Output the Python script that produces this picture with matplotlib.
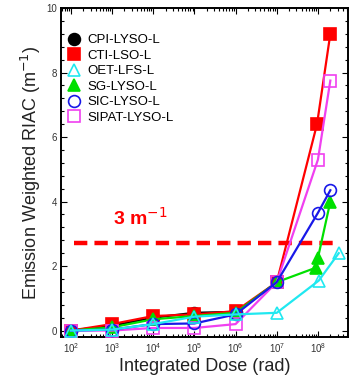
import numpy as np
import matplotlib
matplotlib.use('Agg')
import matplotlib.pyplot as plt
from matplotlib.lines import Line2D
from matplotlib.ticker import LogLocator, MultipleLocator, NullFormatter

plt.rcParams['font.family'] = ['Liberation Sans', 'DejaVu Sans']

# 照射線量 (rad) と放射誘起吸収係数 (m^-1)
dose_cpi = [1e2, 1e3, 1e4, 1e5, 1e6]
riac_cpi = [0.0, 0.15, 0.40, 0.55, 0.58]
dose_cti = [1e2, 1e3, 1e4, 1e5, 1e6, 1e7, 0.95e8, 2e8]
riac_cti = [0.0, 0.20, 0.45, 0.50, 0.60, 1.5, 6.4, 9.2]
dose_oet = [1e2, 1e3, 1e4, 1e5, 1e6, 1e7, 1.05e8, 3.2e8]
riac_oet = [0.0, 0.03, 0.20, 0.43, 0.50, 0.55, 1.55, 2.4]
dose_sg = [1e2, 1e3, 1e4, 1e5, 1e6, 1e7, 0.9e8, 1.0e8, 2e8]
riac_sg = [0.0, 0.10, 0.35, 0.45, 0.55, 1.5, 1.95, 2.25, 4.0]
dose_sic = [1e2, 1e3, 1e4, 1e5, 1e6, 1e7, 1.0e8, 2e8]
riac_sic = [0.0, 0.03, 0.20, 0.22, 0.50, 1.5, 3.65, 4.35]
dose_sipat = [1e2, 1e3, 1e4, 1e5, 1e6, 1e7, 1.0e8, 2e8]
riac_sipat = [0.0, 0.0, 0.08, 0.08, 0.20, 1.5, 5.3, 7.75]

limit_dose = [1.2e2, 2.9e8]
limit_riac = [2.72, 2.72]

fig = plt.figure(figsize=(3.59, 3.75), dpi=100)
ax = fig.add_axes([61 / 359, 1 - 337 / 375, 287 / 359, 329 / 375])

ms = 8.5
styles = [
    ('CPI-LYSO-L', dose_cpi, riac_cpi, 'o', 'black', True, 3),
    ('CTI-LSO-L', dose_cti, riac_cti, 's', '#ff0000', True, 4),
    ('OET-LFS-L', dose_oet, riac_oet, '^', '#20e8f0', False, 8),
    ('SG-LYSO-L', dose_sg, riac_sg, '^', '#00e000', True, 5),
    ('SIC-LYSO-L', dose_sic, riac_sic, 'o', '#1818e8', False, 7),
    ('SIPAT-LYSO-L', dose_sipat, riac_sipat, 's', '#f040f0', False, 6),
]
handles = []
for name, x, y, mk, c, filled, z in styles:
    mfc = c if filled else 'none'
    ax.plot(x, y, '-', marker=mk, color=c, lw=1.6, ms=ms, mfc=mfc, mew=1.2, zorder=z)
    handles.append(Line2D([], [], ls='none', marker=mk, color=c, ms=ms, mfc=mfc, mew=1.2, label=name))

# 3 m^-1 の基準線
ax.plot(limit_dose, limit_riac, '--', color='#ff0000', lw=3.2, dashes=(3, 1.6), zorder=2)
ax.text(1.05e3, 3.5, '3 m$^{-1}$', color='#ff0000', fontsize=14, fontweight='bold', va='center', ha='left')

ax.set_xscale('log')
ax.set_xlim(10 ** 1.76, 10 ** 8.73)
ax.set_ylim(-0.2, 10)
ax.xaxis.set_minor_locator(LogLocator(base=10, subs=np.arange(2, 10), numticks=12))
ax.xaxis.set_minor_formatter(NullFormatter())
ax.set_xticks([1e2, 1e3, 1e4, 1e5, 1e6, 1e7, 1e8])
ax.yaxis.set_major_locator(MultipleLocator(2))
ax.yaxis.set_minor_locator(MultipleLocator(0.4))
ax.tick_params(which='both', direction='in', top=True, right=True, width=0.8)
ax.tick_params(which='major', length=4, labelsize=7, labelcolor='#333333', pad=3)
ax.tick_params(which='minor', length=2)
for s in ax.spines.values():
    s.set_linewidth(1.4)

ax.set_xlabel('Integrated Dose (rad)', fontsize=13, color='#222222', labelpad=2)
ax.set_ylabel('Emission Weighted RIAC (m$^{-1}$)', fontsize=13, color='#222222', labelpad=2)

ax.legend(handles=handles, loc='upper left', bbox_to_anchor=(-0.005, 0.945), frameon=False, fontsize=9.5,
          handlelength=1.0, handletextpad=0.5, labelspacing=0.25, borderaxespad=0.2)

fig.savefig('out.png', dpi=100)
